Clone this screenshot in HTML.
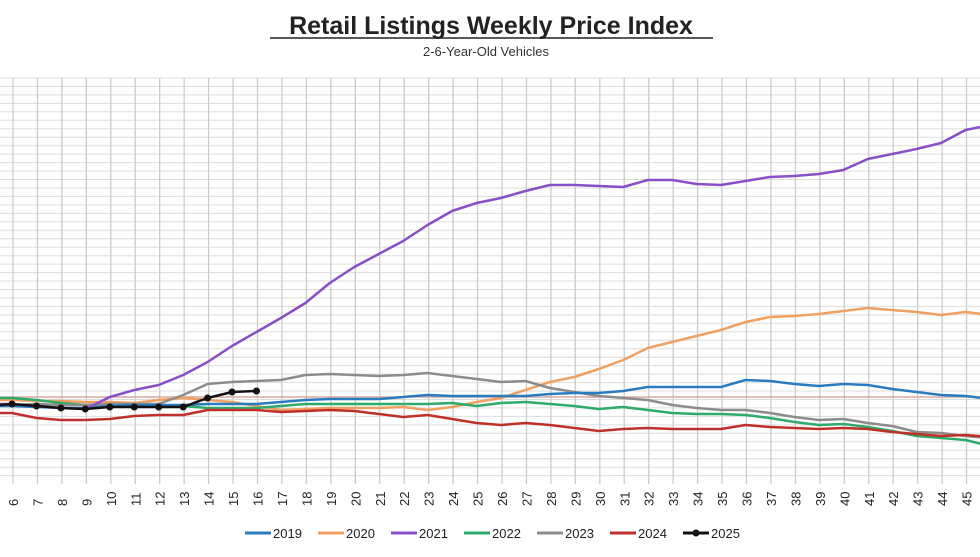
<!DOCTYPE html>
<html><head><meta charset="utf-8"><style>
body{margin:0;background:#fff;width:980px;height:552px;overflow:hidden;font-family:"Liberation Sans",sans-serif}
</style></head><body>
<svg id="s" width="980" height="552" xmlns="http://www.w3.org/2000/svg">
<text x="491" y="34" text-anchor="middle" font-size="25" font-weight="bold" fill="#222">Retail Listings Weekly Price Index</text>
<line x1="270" y1="38" x2="713" y2="38" stroke="#222" stroke-width="1.5"/>
<text x="486" y="56" text-anchor="middle" font-size="13" fill="#333">2-6-Year-Old Vehicles</text>
<g id="g"></g>
</svg>
<script>
var g=document.getElementById('g'),h='';
function X(w){return 12+(w-6)*24.45}
for(var y=78;y<=484;y+=8.46)h+='<line x1="0" x2="980" y1="'+y.toFixed(1)+'" y2="'+y.toFixed(1)+'" stroke="#ddd" stroke-width="1"/>';
for(var w=6;w<=46;w++){var x=X(w)+1;h+='<line x1="'+x+'" x2="'+x+'" y1="78" y2="484" stroke="#ccc" stroke-width="1.3"/>';
h+='<text transform="translate('+(x+5)+',506) rotate(-90)" font-size="13" fill="#222">'+w+'</text>';}
function P(a,c,wd){var d='M0 '+a[0]+' ';for(var i=0;i<a.length;i++)d+='L'+X(6+i).toFixed(1)+' '+a[i]+' ';h+='<path d="'+d+'" fill="none" stroke="'+c+'" stroke-width="'+(wd||2.5)+'" stroke-linejoin="round"/>';}
h+='<line x1="0" x2="980" y1="397" y2="397" stroke="#d8a8a0" stroke-width="1.5"/>';
P([400,401,401,402,402,403,400,398,400,402,406,410,409,408,408,408,407,410,407,402,398,390,382,377,369,360,348,342,336,330,322,317,316,314,311,308,310,312,315,312,315],'#f0a060');
P([398,400,403,405,405,406,406,406,408,408,408,406,404,404,404,404,404,404,403,406,403,402,404,406,409,407,410,413,414,414,415,418,422,425,424,427,431,436,438,440,446],'#2eaa6a');
P([405,404,405,405,404,404,404,395,384,382,381,380,375,374,375,376,375,373,376,379,382,381,388,392,396,398,400,405,408,410,410,413,417,420,419,423,426,432,433,436,438],'#8c8c8c');
P([406,407,408,408,406,405,405,405,404,404,404,402,400,399,399,399,397,395,396,396,396,396,394,393,393,391,387,387,387,387,380,381,384,386,384,385,389,392,395,396,399],'#2a7cc0');
P([404,406,408,409,397,390,385,375,362,346,332,318,303,283,267,254,241,225,211,203,198,191,185,185,186,187,180,180,184,185,181,177,176,174,170,159,154,149,143,130,125],'#8a4fc8');
P([413,418,420,420,419,416,415,415,410,410,410,412,411,410,411,414,417,415,419,423,425,423,425,428,431,429,428,429,429,429,425,427,428,429,428,429,432,434,436,435,437],'#c0302a');
var k=[404,406,408,409,407,407,407,407,398,392,391],d='M0 405 ';
for(var i=0;i<k.length;i++){d+='L'+X(6+i).toFixed(1)+' '+k[i]+' ';h+='<circle cx="'+X(6+i).toFixed(1)+'" cy="'+k[i]+'" r="3.5" fill="#111"/>';}
h+='<path d="'+d+'" fill="none" stroke="#111" stroke-width="2.5"/>';
var L=[['2019','#2a7cc0',245],['2020','#f0a060',318],['2021','#8a4fc8',391],['2022','#2eaa6a',464],['2023','#8c8c8c',537],['2024','#c0302a',610],['2025','#111',683]];
L.forEach(function(l){h+='<line x1="'+l[2]+'" x2="'+(l[2]+26)+'" y1="533" y2="533" stroke="'+l[1]+'" stroke-width="3"/>';
if(l[0]=='2025')h+='<circle cx="'+(l[2]+13)+'" cy="533" r="3.5" fill="#111"/>';
h+='<text x="'+(l[2]+28)+'" y="538" font-size="13" fill="#222">'+l[0]+'</text>';});
g.innerHTML=h;
</script>
</body></html>
